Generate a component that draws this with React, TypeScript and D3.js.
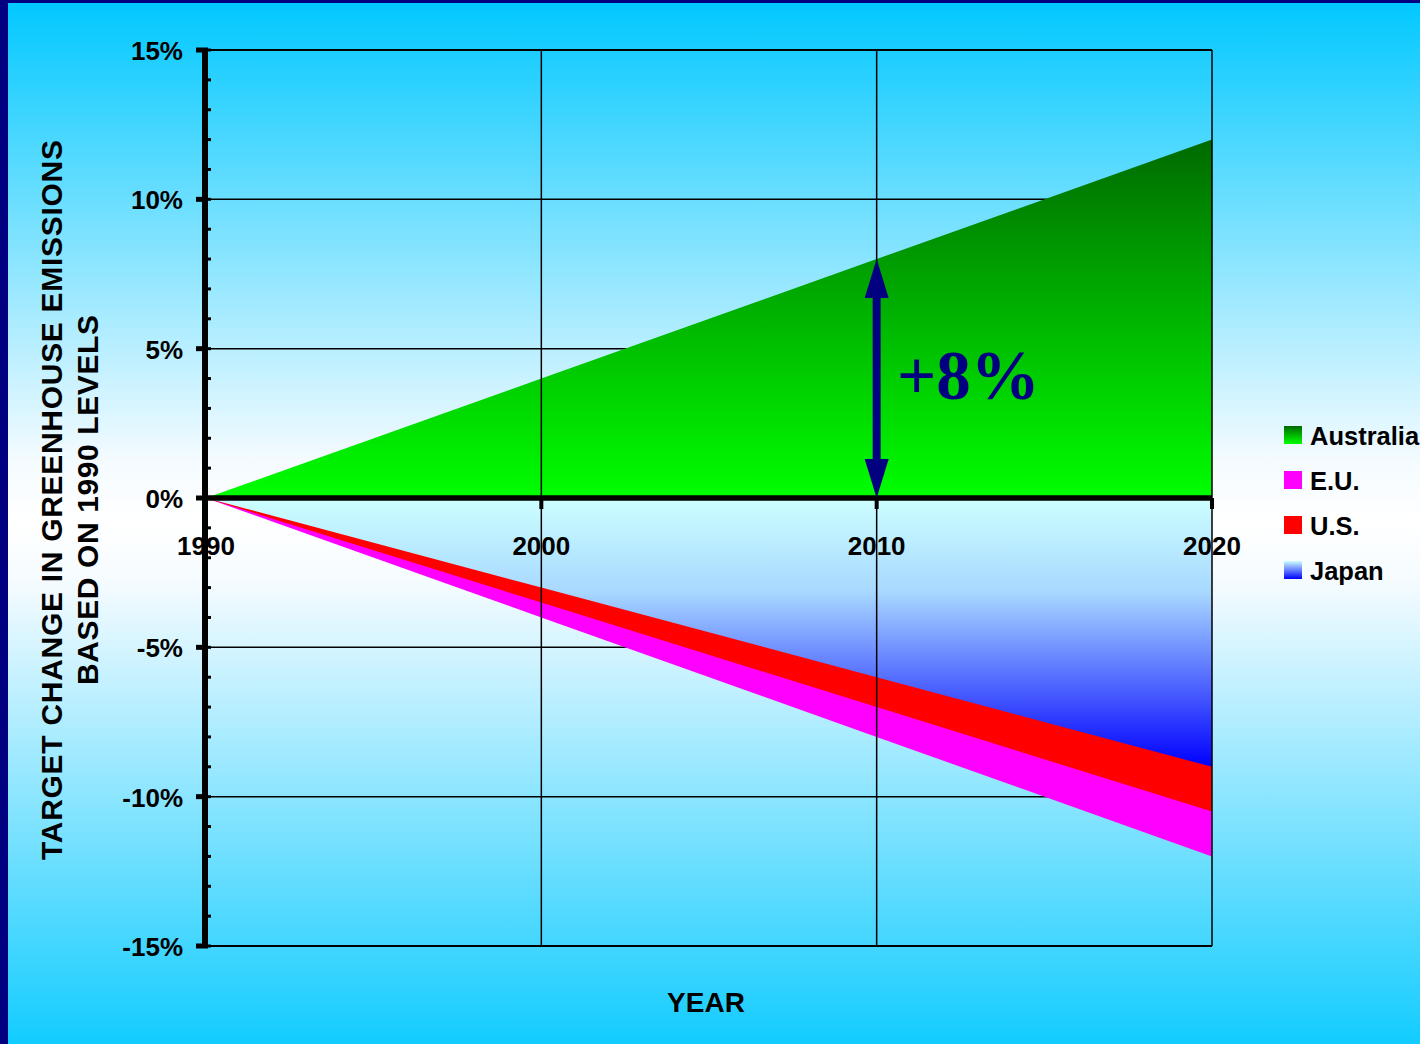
import React from "react";
import * as d3 from "d3";

const years = [1990, 2000, 2010, 2020];
const australia = [0, 4, 8, 12];
const eu = [0, -4, -8, -12];
const us = [0, -3.5, -7, -10.5];
const japan = [0, -3, -6, -9];

const yTicks = [15, 10, 5, 0, -5, -10, -15];
const yMinorTicks = d3.range(-15, 16, 1);
const xTicks = [1990, 2000, 2010, 2020];

const legendItems = [
  { name: "Australia", fill: "url(#gAusLeg)" },
  { name: "E.U.", fill: "#ff00ff" },
  { name: "U.S.", fill: "#ff0000" },
  { name: "Japan", fill: "url(#gJapLeg)" },
];

const annotationYear = 2010;
const annotationValue = 8;
const annotationText = "+8%";

const W = 1420;
const H = 1044;

export default function App() {
  const x = d3.scaleLinear().domain([1990, 2020]).range([206, 1212]);
  const y = d3.scaleLinear().domain([-15, 15]).range([946, 50]);

  const area = (vals: number[]) =>
    d3
      .area<number>()
      .x((_, i) => x(years[i]))
      .y0(() => y(0))
      .y1((d) => y(d))(vals) as string;

  const font = "'Liberation Sans', Arial, sans-serif";
  const ax = annotationYear;
  const tipTop = y(annotationValue);
  const tipBot = y(0);

  return (
    <svg
      width={W}
      height={H}
      style={{ position: "absolute", left: 0, top: 0, display: "block" }}
      fontFamily={font}
    >
      <defs>
        <linearGradient id="bg" x1="0" y1="0" x2="0" y2="1">
          <stop offset="0" stopColor="#00c8ff" />
          <stop offset="0.44" stopColor="#f4fbff" />
          <stop offset="0.5" stopColor="#ffffff" />
          <stop offset="0.56" stopColor="#f4fbff" />
          <stop offset="1" stopColor="#12ccff" />
        </linearGradient>
        <linearGradient id="gAus" gradientUnits="userSpaceOnUse" x1="0" y1={y(12)} x2="0" y2={y(0)}>
          <stop offset="0" stopColor="#006a00" />
          <stop offset="1" stopColor="#00ff00" />
        </linearGradient>
        <linearGradient id="gJap" gradientUnits="userSpaceOnUse" x1="0" y1={y(0)} x2="0" y2={y(-9)}>
          <stop offset="0" stopColor="#ccffff" />
          <stop offset="0.35" stopColor="#a8d8ff" />
          <stop offset="1" stopColor="#0000ff" />
        </linearGradient>
        <linearGradient id="gAusLeg" x1="0" y1="0" x2="0" y2="1">
          <stop offset="0" stopColor="#006a00" />
          <stop offset="1" stopColor="#00ff00" />
        </linearGradient>
        <linearGradient id="gJapLeg" x1="0" y1="0" x2="0" y2="1">
          <stop offset="0" stopColor="#ccffff" />
          <stop offset="1" stopColor="#0000ff" />
        </linearGradient>
      </defs>

      <rect x={0} y={0} width={W} height={H} fill="url(#bg)" />
      <rect x={0} y={0} width={8} height={H} fill="#000080" />
      <rect x={0} y={0} width={W} height={3} fill="#000080" />

      {/* horizontal gridlines (behind areas) */}
      {yTicks.map((t) => (
        <line key={"hg" + t} x1={x(1990)} x2={x(2020)} y1={y(t)} y2={y(t)} stroke="#000" strokeWidth={1.5} />
      ))}

      {/* areas */}
      <path d={area(australia)} fill="url(#gAus)" />
      <path d={area(eu)} fill="#ff00ff" />
      <path d={area(us)} fill="#ff0000" />
      <path d={area(japan)} fill="url(#gJap)" />

      {/* vertical gridlines */}
      {xTicks.slice(1).map((t) => (
        <line key={"vg" + t} x1={x(t)} x2={x(t)} y1={y(15)} y2={y(-15)} stroke="#000" strokeWidth={1.5} />
      ))}
      <line x1={x(1990)} x2={x(2020)} y1={y(15)} y2={y(15)} stroke="#000" strokeWidth={2} />
      <line x1={x(1990)} x2={x(2020)} y1={y(-15)} y2={y(-15)} stroke="#000" strokeWidth={2} />

      {/* y axis */}
      <line x1={205} x2={205} y1={y(15) - 2} y2={y(-15) + 2} stroke="#000" strokeWidth={6} />
      {yMinorTicks.map((t) => (
        <line key={"mt" + t} x1={205} x2={211} y1={y(t)} y2={y(t)} stroke="#000" strokeWidth={3} />
      ))}
      {yTicks.map((t) => (
        <line key={"mj" + t} x1={196} x2={208} y1={y(t)} y2={y(t)} stroke="#000" strokeWidth={5} />
      ))}
      {yTicks.map((t) => (
        <text key={"yl" + t} x={183} y={y(t) + 10} textAnchor="end" fontSize={26} fontWeight="bold" fill="#000">
          {t + "%"}
        </text>
      ))}

      {/* zero axis */}
      <line x1={x(1990)} x2={x(2020)} y1={y(0)} y2={y(0)} stroke="#000" strokeWidth={5.5} />
      {xTicks.map((t) => (
        <line key={"xt" + t} x1={x(t)} x2={x(t)} y1={y(0)} y2={y(0) + 11} stroke="#000" strokeWidth={4} />
      ))}
      {xTicks.map((t) => (
        <text key={"xl" + t} x={x(t)} y={555} textAnchor="middle" fontSize={26} fontWeight="bold" fill="#000">
          {t}
        </text>
      ))}

      {/* annotation arrow */}
      <line x1={x(ax)} x2={x(ax)} y1={tipTop + 30} y2={tipBot - 30} stroke="#000080" strokeWidth={8} />
      <path
        d={`M${x(ax)},${tipTop} L${x(ax) + 12},${tipTop + 39} L${x(ax) - 12},${tipTop + 39} Z`}
        fill="#000080"
      />
      <path
        d={`M${x(ax)},${tipBot} L${x(ax) + 12},${tipBot - 39} L${x(ax) - 12},${tipBot - 39} Z`}
        fill="#000080"
      />
      <text
        x={897}
        y={399}
        fontFamily="'Liberation Serif', 'Times New Roman', serif"
        fontWeight="bold"
        fontSize={69}
        fill="#000080"
      >
        {annotationText}
      </text>

      {/* legend */}
      {legendItems.map((d, i) => {
        const cy = 435 + i * 45;
        return (
          <g key={d.name}>
            <rect x={1284} y={cy - 9} width={18} height={18} fill={d.fill} />
            <text x={1310} y={cy + 10} fontSize={25.5} fontWeight="bold" fill="#000">
              {d.name}
            </text>
          </g>
        );
      })}

      {/* axis titles */}
      <g transform="translate(62,500) rotate(-90)">
        <text x={0} y={0} textAnchor="middle" fontSize={30} fontWeight="bold" fill="#000" textLength={720} lengthAdjust="spacing">
          TARGET CHANGE IN GREENHOUSE EMISSIONS
        </text>
      </g>
      <g transform="translate(98,500) rotate(-90)">
        <text x={0} y={0} textAnchor="middle" fontSize={30} fontWeight="bold" fill="#000" textLength={370} lengthAdjust="spacing">
          BASED ON 1990 LEVELS
        </text>
      </g>
      <text x={706} y={1012} textAnchor="middle" fontSize={28} fontWeight="bold" fill="#000">
        YEAR
      </text>
    </svg>
  );
}
